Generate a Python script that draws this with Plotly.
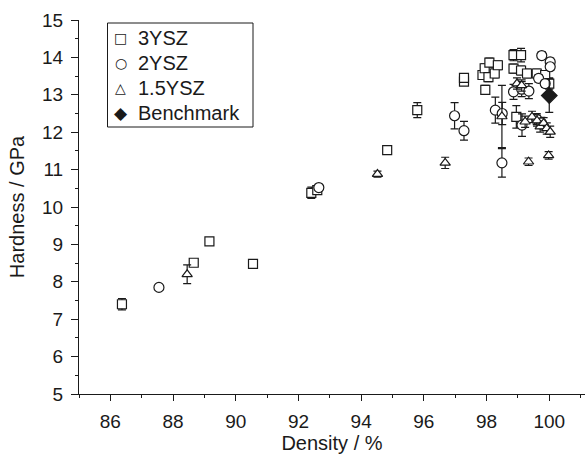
import plotly.graph_objects as go

# ---- data ----
ysz3_density = [86.37, 88.66, 89.16, 90.55, 92.41, 92.60, 94.83, 95.79, 97.28, 97.28,
                97.87, 97.94, 97.96, 98.06, 98.09, 98.26, 98.36, 98.86, 99.10, 98.86,
                99.10, 99.29, 99.60, 99.87, 100.00, 98.95]
ysz3_hardness = [7.40, 8.51, 9.08, 8.48, 10.38, 10.45, 11.52, 12.59, 13.35, 13.45,
                 13.53, 13.71, 13.13, 13.47, 13.86, 13.57, 13.79, 14.06, 14.06, 13.70,
                 13.65, 13.57, 13.57, 13.53, 13.30, 12.41]
ysz3_err = [0.15, 0.05, 0.08, 0.05, 0.15, 0.10, 0.05, 0.20, 0.10, 0.10,
            0.12, 0.12, 0.12, 0.12, 0.12, 0.12, 0.12, 0.15, 0.18, 0.12,
            0.12, 0.12, 0.12, 0.12, 0.15, 0.30]

ysz2_density = [87.55, 92.65, 96.98, 97.28, 98.28, 98.49, 98.50, 98.86, 99.12, 99.35,
                99.13, 99.66, 99.76, 100.03, 100.03, 99.87, 99.60, 99.75]
ysz2_hardness = [7.85, 10.52, 12.44, 12.04, 12.59, 11.18, 12.50, 13.08, 13.15, 13.10,
                 12.19, 13.44, 14.05, 13.88, 13.75, 13.30, 12.35, 12.25]
ysz2_err = [0.07, 0.05, 0.35, 0.25, 0.35, 0.38, 0.30, 0.20, 0.20, 0.20,
            0.30, 0.10, 0.10, 0.10, 0.10, 0.10, 0.15, 0.15]

ysz15_density = [88.45, 94.52, 96.68, 98.49, 98.97, 99.12, 99.23, 99.45, 99.61, 99.71,
                 99.82, 99.92, 100.03, 99.34, 99.98]
ysz15_hardness = [8.20, 10.88, 11.18, 12.42, 13.30, 13.25, 12.28, 12.41, 12.31, 12.15,
                  12.24, 12.10, 12.01, 11.21, 11.38]
ysz15_err = [0.25, 0.08, 0.15, 0.83, 0.15, 0.15, 0.15, 0.15, 0.15, 0.15,
             0.15, 0.15, 0.15, 0.10, 0.10]

bench_density = [100.0]
bench_hardness = [12.98]
bench_err = [0.45]

x_ticks = [86, 88, 90, 92, 94, 96, 98, 100]
y_ticks = [5, 6, 7, 8, 9, 10, 11, 12, 13, 14, 15]

legend_names = ["3YSZ", "2YSZ", "1.5YSZ", "Benchmark"]
legend_glyphs = ["\u25A1", "\u25CB", "\u25B3", "\u25C6"]

INK = "#1a1a1a"
FONT = "Liberation Sans, Arial, sans-serif"

W, H = 585, 454
ML, MR, MT, MB = 79, 0, 20, 60
PW, PH = W - ML - MR, H - MT - MB


def px_x(px):
    return (px - ML) / PW


def px_y(py):
    return (H - MB - py) / PH


fig = go.Figure()


def add(name, xs, ys, errs, symbol, size, fill):
    fig.add_trace(go.Scatter(
        x=xs, y=ys, mode="markers", name=name, showlegend=False,
        marker=dict(symbol=symbol, size=size, color=fill,
                    line=dict(color=INK, width=1.2)),
        error_y=dict(type="data", array=errs, visible=True,
                     color=INK, thickness=1.2, width=4),
    ))


add("3YSZ", ysz3_density, ysz3_hardness, ysz3_err, "square", 9, "white")
add("2YSZ", ysz2_density, ysz2_hardness, ysz2_err, "circle", 10, "white")
add("1.5YSZ", ysz15_density, ysz15_hardness, ysz15_err, "triangle-up", 9, "white")
add("Benchmark", bench_density, bench_hardness, bench_err, "diamond", 12, INK)

# ---- custom legend box (layout decoration) ----
fig.add_shape(type="rect", xref="paper", yref="paper",
              x0=px_x(107.5), x1=px_x(253), y0=px_y(127), y1=px_y(23),
              line=dict(color=INK, width=1), fillcolor="white", layer="above")
row_y = [38, 62.5, 87.5, 112.5]
for i, (name, glyph) in enumerate(zip(legend_names, legend_glyphs)):
    fig.add_annotation(xref="paper", yref="paper", x=px_x(120.5), y=px_y(row_y[i]),
                       text=glyph, showarrow=False, xanchor="center", yanchor="middle",
                       font=dict(family="DejaVu Sans", size=14 if i < 3 else 17, color=INK))
    fig.add_annotation(xref="paper", yref="paper", x=px_x(136), y=px_y(row_y[i]),
                       text=name, showarrow=False, xanchor="left", yanchor="middle",
                       font=dict(family=FONT, size=20, color=INK))

fig.update_layout(
    width=W, height=H,
    margin=dict(l=ML, r=MR, t=MT, b=MB, autoexpand=False),
    paper_bgcolor="white", plot_bgcolor="white",
    font=dict(family=FONT, size=19, color=INK),
    showlegend=False,
    xaxis=dict(range=[85, 101.14], tickmode="array", tickvals=x_ticks,
               automargin=True,
               ticks="outside", ticklen=6, tickwidth=1, tickcolor=INK,
               ticklabelstandoff=4,
               showline=True, linecolor=INK, linewidth=1,
               showgrid=False, zeroline=False,
               minor=dict(tickvals=[85, 87, 89, 91, 93, 95, 97, 99, 101],
                          ticks="outside", ticklen=3, tickcolor=INK),
               title=dict(text="Density / %", standoff=12,
                          font=dict(size=20, color=INK)),
               tickfont=dict(size=19, color=INK)),
    yaxis=dict(range=[5, 15], tickmode="array", tickvals=y_ticks,
               automargin=True,
               ticks="outside", ticklen=7, tickwidth=1, tickcolor=INK,
               ticklabelstandoff=4,
               showline=True, linecolor=INK, linewidth=1,
               showgrid=False, zeroline=False,
               minor=dict(tickvals=[5.5 + i for i in range(10)],
                          ticks="outside", ticklen=3, tickcolor=INK),
               title=dict(text="Hardness / GPa", standoff=12,
                          font=dict(size=20, color=INK)),
               tickfont=dict(size=19, color=INK)),
)

fig.write_html("out.html")
